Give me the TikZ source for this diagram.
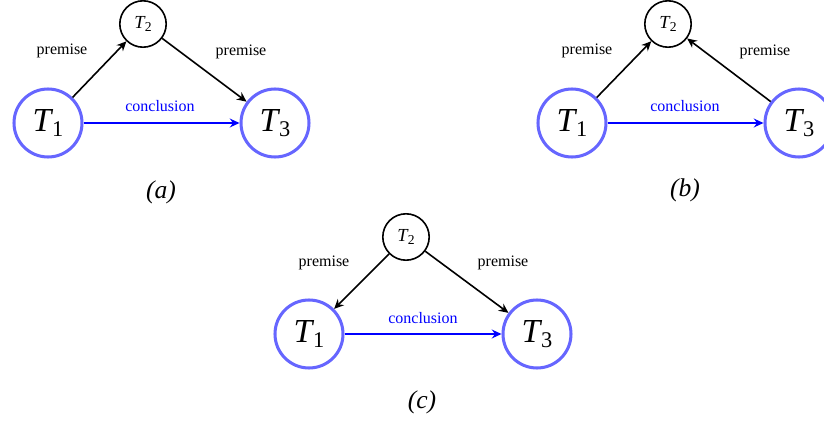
\documentclass[tikz,border=0pt]{standalone}
\usepackage{fontspec}
\setmainfont{Liberation Serif}
\newfontfamily\tms{Liberation Serif}
\usetikzlibrary{arrows.meta}
\newcommand\BigT[1]{{\tms\fontsize{21}{21}\selectfont\textit{T}\kern-0.8pt\raisebox{-3.5pt}{\fontsize{14}{14}\selectfont #1}}}
\newcommand\SmallT[1]{{\tms\fontsize{11.5}{11.5}\selectfont\textit{T}\kern-0.5pt\raisebox{-2pt}{\fontsize{8.5}{8.5}\selectfont #1}}}
\begin{document}
\begin{tikzpicture}[x=0.625pt,y=-0.625pt,
  bignode/.style={circle, draw=blue!60, line width=1.9pt, minimum size=42.5pt, inner sep=0pt},
  smallnode/.style={circle, draw=black, line width=1pt, minimum size=29pt, inner sep=0pt},
  prem/.style={-{Stealth[length=6pt,width=5.5pt]}, line width=1pt, black},
  conc/.style={-{Stealth[length=6pt,width=5.5pt]}, line width=1pt, blue},
  lbl/.style={font=\tms\fontsize{10}{12}\selectfont},
  clbl/.style={font=\tms\fontsize{10}{12}\selectfont, text=blue},
  caplbl/.style={font=\tms\fontsize{16}{18}\selectfont\itshape}
]
\useasboundingbox (0,0) rectangle (824,424);
\clip (0,0) rectangle (824,424);

% (a)
\node[bignode] (a1) at (48,123) {\BigT{1}};
\node[smallnode] (a2) at (143,24) {\SmallT{2}};
\node[bignode] (a3) at (275,123) {\BigT{3}};
\draw[prem] (a1) -- (a2);
\draw[prem] (a2) -- (a3);
\draw[conc] (a1) -- (a3);
\node[lbl] (apl) at (62,51) {premise};
\node[lbl] (apr) at (241,52) {premise};
\node[clbl] (acl) at (160,106) {conclusion};
\node[caplbl] (acap) at (161,192) {(a)};

% (b)
\node[bignode] (b1) at (572,123) {\BigT{1}};
\node[smallnode] (b2) at (668,24) {\SmallT{2}};
\node[bignode] (b3) at (799,123) {\BigT{3}};
\draw[prem] (b1) -- (b2);
\draw[prem] (b3) -- (b2);
\draw[conc] (b1) -- (b3);
\node[lbl] (bpl) at (587,51) {premise};
\node[lbl] (bpr) at (765,52) {premise};
\node[clbl] (bcl) at (685,106) {conclusion};
\node[caplbl] (bcap) at (685,190) {(b)};

% (c)
\node[bignode] (c1) at (309,334) {\BigT{1}};
\node[smallnode] (c2) at (406,237) {\SmallT{2}};
\node[bignode] (c3) at (537,334) {\BigT{3}};
\draw[prem] (c2) -- (c1);
\draw[prem] (c2) -- (c3);
\draw[conc] (c1) -- (c3);
\node[lbl] (cpl) at (324,263) {premise};
\node[lbl] (cpr) at (503,263) {premise};
\node[clbl] (ccl) at (423,318) {conclusion};
\node[caplbl] (ccap) at (422,402) {(c)};
\end{tikzpicture}
\end{document}
